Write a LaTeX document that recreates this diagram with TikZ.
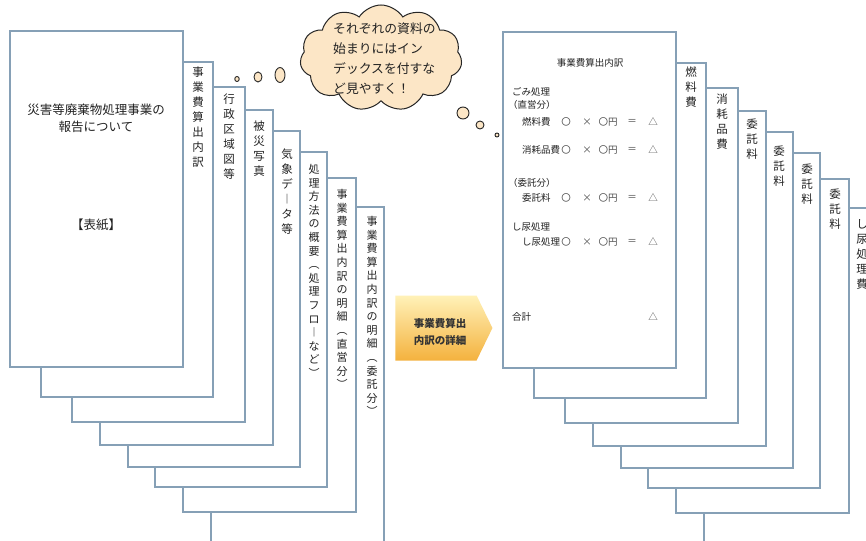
\documentclass[tikz,border=0pt]{standalone}
\usepackage{fontspec}
\newfontfamily\jp{Noto Sans CJK JP}
\usetikzlibrary{shapes.symbols,shapes.geometric}
\definecolor{pageline}{HTML}{86A0B6}
\definecolor{cloudfill}{HTML}{FCE6C6}
\definecolor{arrowtop}{HTML}{FFF1B8}
\definecolor{arrowbot}{HTML}{F4B23E}
\definecolor{txt}{HTML}{222222}
\begin{document}
\begin{tikzpicture}[x=1pt,y=-1pt,
  page/.style={draw=pageline,fill=white,line width=1.1pt},
  tabtext/.style={anchor=north,inner sep=0pt,align=center,text=txt,font=\jp\fontsize{11.5}{15}\selectfont},
  tablong/.style={tabtext,font=\jp\fontsize{11}{13.6}\selectfont},
  covertext/.style={inner sep=0pt,align=center,text=txt,font=\jp\fontsize{12.5}{17}\selectfont},
  small/.style={inner sep=0pt,text=txt,font=\jp\fontsize{9.5}{12}\selectfont},
  sym/.style={small,text=black!70},
  bubble/.style={ellipse,draw=black!85,fill=cloudfill,line width=0.9pt,inner sep=0pt},
  cloudtext/.style={inner sep=0pt,align=left,text=txt,font=\jp\fontsize{12.8}{20}\selectfont},
  arrowtext/.style={inner sep=0pt,align=center,text=black!80,font=\jp\bfseries\fontsize{10.5}{17}\selectfont}
]
\path[use as bounding box,fill=white] (0,0) rectangle (866,540);
\clip (0,0) rectangle (866,540);

% ---- page stacks (back to front) ----
\foreach \xa/\ya/\xb/\yb in {211/207/384/560, 183/178/356/512, 155/152/327/487, 128/131/300/467, 100/110/273/445, 72/87/245/422, 41/62/213/397, 10/31/183/367}{
  \path[page] (\xa,\ya) rectangle (\xb,\yb);
  \path[page] (\xa+493,\ya+1) rectangle (\xb+493,\yb+1);
}

% ---- left cover ----
\node[covertext] (covtitle) at (96,118.5) {災害等廃棄物処理事業の\\報告について};
\node[covertext] (covlabel) at (96,225) {【表紙】};

% ---- left tabs ----
\node[tabtext] (L2) at (198,67) {事\\業\\費\\算\\出\\内\\訳};
\node[tabtext] (L3) at (229,94) {行\\政\\区\\域\\図\\等};
\node[tabtext] (L4) at (259,121) {被\\災\\写\\真};
\node[tabtext] (L5) at (287,149) {気\\象\\デ\\︱\\タ\\等};
\node[tablong] (L6) at (314,164) {処\\理\\方\\法\\の\\概\\要\\︵\\処\\理\\フ\\ロ\\︱\\な\\ど\\︶};
\node[tablong] (L7) at (342,189) {事\\業\\費\\算\\出\\内\\訳\\の\\明\\細\\︵\\直\\営\\分\\︶};
\node[tablong] (L8) at (372,216) {事\\業\\費\\算\\出\\内\\訳\\の\\明\\細\\︵\\委\\託\\分\\︶};

% ---- right tabs ----
\node[tabtext] (R2) at (691,67) {燃\\料\\費};
\node[tabtext] (R3) at (722,94) {消\\耗\\品\\費};
\node[tabtext] (R4) at (752,119) {委\\託\\料};
\node[tabtext] (R5) at (779,146) {委\\託\\料};
\node[tabtext] (R6) at (807,164) {委\\託\\料};
\node[tabtext] (R7) at (835,189) {委\\託\\料};
\node[tabtext] (R8) at (862,219) {し\\尿\\処\\理\\費};

% ---- right main page content ----
\node[small] (rtitle) at (590,63) {事業費算出内訳};
\node[small,anchor=west] (gomi) at (512,92) {ごみ処理};
\node[small,anchor=west] (chokuei) at (508,105) {（直営分）};
\node[small,anchor=west] (itaku) at (508,183) {（委託分）};
\node[small,anchor=west] (shinyo) at (512,227) {し尿処理};
\foreach \lab/\yy/\n in {燃料費/122/a, 消耗品費/150/b, 委託料/198/c, し尿処理/242/d}{
  \node[small,anchor=west] (row\n) at (522,\yy) {\lab};
  \node[sym] (row\n-o) at (566,\yy) {〇};
  \node[sym] (row\n-x) at (587,\yy) {×};
  \node[sym] (row\n-y) at (608,\yy) {〇円};
  \node[sym] (row\n-e) at (632,\yy) {＝};
  \node[sym] (row\n-t) at (653,\yy) {△};
}
\node[small,anchor=west] (gokei) at (512,317) {合計};
\node[sym] (gokei-t) at (653,317) {△};

% ---- arrow ----
\node[signal,signal to=east,signal pointer angle=128,minimum width=97,minimum height=65,
      inner sep=0pt,top color=arrowtop,bottom color=arrowbot] (arrow) at (436,328) {};
\node[arrowtext] (arrowlabel) at (440,331.5) {事業費算出\\内訳の詳細};

% ---- thought cloud ----
\node[cloud,cloud puffs=11,cloud puff arc=115,aspect=1.55,draw=black!85,fill=cloudfill,
      line width=1pt,minimum width=162,minimum height=106,inner sep=0pt] (cloud) at (381,58) {};
\node[cloudtext,anchor=north west] (cloudlabel) at (333,23) {それぞれの資料の\\始まりにはイン\\デックスを付すな\\ど見やすく！};

\node[bubble,minimum width=10,minimum height=15] (bl1) at (280,75) {};
\node[bubble,minimum width=8,minimum height=10] (bl2) at (258,77) {};
\node[bubble,minimum width=4.5,minimum height=5] (bl3) at (237,79) {};
\node[bubble,minimum width=12,minimum height=12] (br1) at (463,113) {};
\node[bubble,minimum width=8,minimum height=8] (br2) at (480,125) {};
\node[bubble,minimum width=4,minimum height=4] (br3) at (497,135) {};
\end{tikzpicture}
\end{document}
